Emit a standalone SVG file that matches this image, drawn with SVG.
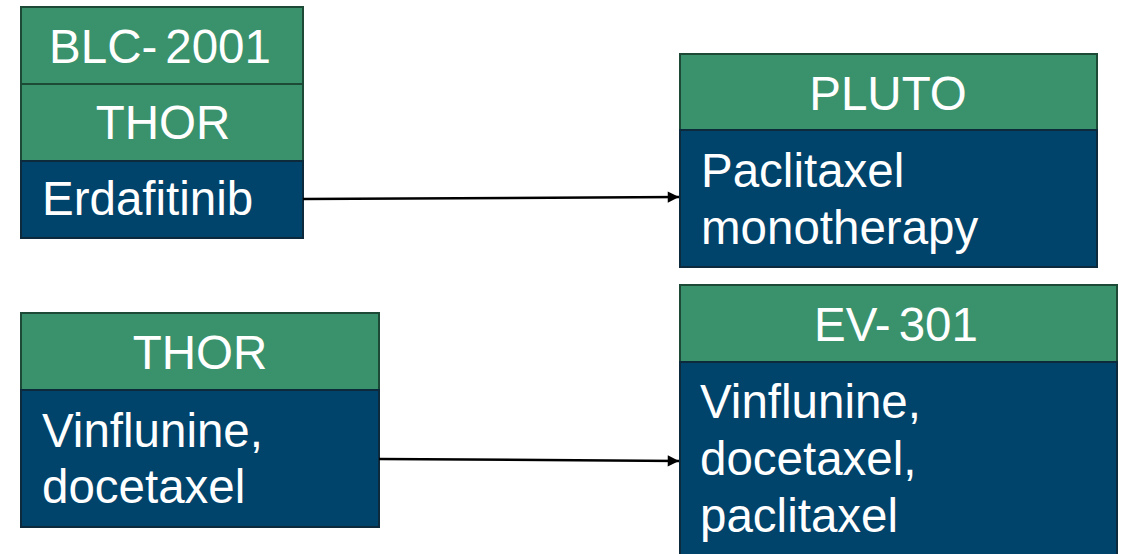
<svg xmlns="http://www.w3.org/2000/svg" width="1123" height="554" viewBox="0 0 1123 554">
  <defs>
    <style>
      .hdr { fill: #3a926c; stroke: #1d4a37; stroke-width: 2; }
      .body { fill: #00436b; stroke: #0c2a3b; stroke-width: 2; }
      .t { font-family: "Liberation Sans", Arial, sans-serif; font-size: 47.5px; fill: #ffffff; }
      .c { text-anchor: middle; }
      .conn { stroke: #000000; stroke-width: 2.5; fill: none; }
    </style>
    <marker id="arrow" viewBox="0 0 10 10" refX="10" refY="5" markerWidth="5.5" markerHeight="4.5" markerUnits="strokeWidth" orient="auto">
      <path d="M0,0 L10,5 L0,10 Z" fill="#000000"/>
    </marker>
  </defs>
  <rect width="1123" height="554" fill="#ffffff"/>

  <g id="blc-thor-erdafitinib">
    <rect class="hdr" x="21" y="7" width="282" height="77"/>
    <rect class="hdr" x="21" y="84" width="282" height="77"/>
    <rect class="body" x="21" y="161" width="282" height="77"/>
    <text class="t c" x="160" y="63">BLC-<tspan dx="8">2001</tspan></text>
    <text class="t c" x="163" y="139">THOR</text>
    <text class="t" x="42" y="215">Erdafitinib</text>
  </g>

  <g id="pluto-paclitaxel">
    <rect class="hdr" x="680" y="54" width="417" height="76"/>
    <rect class="body" x="680" y="130" width="417" height="137"/>
    <text class="t c" x="888" y="110">PLUTO</text>
    <text class="t" x="701" y="187">Paclitaxel</text>
    <text class="t" x="701" y="244">monotherapy</text>
  </g>

  <g id="thor-vinflunine-docetaxel">
    <rect class="hdr" x="21" y="313" width="358" height="77"/>
    <rect class="body" x="21" y="390" width="358" height="137"/>
    <text class="t c" x="200" y="369">THOR</text>
    <text class="t" x="42" y="447">Vinflunine,</text>
    <text class="t" x="42" y="503">docetaxel</text>
  </g>

  <g id="ev301-chemotherapy">
    <rect class="hdr" x="680" y="285" width="437" height="77"/>
    <rect class="body" x="680" y="362" width="437" height="200"/>
    <text class="t c" x="896" y="341">EV-<tspan dx="8">301</tspan></text>
    <text class="t" x="700" y="418">Vinflunine,</text>
    <text class="t" x="700" y="475">docetaxel,</text>
    <text class="t" x="700" y="532">paclitaxel</text>
  </g>

  <g id="connectors">
    <line class="conn" x1="303" y1="199" x2="679" y2="197" marker-end="url(#arrow)"/>
    <line class="conn" x1="379" y1="459" x2="679" y2="461" marker-end="url(#arrow)"/>
  </g>
</svg>
